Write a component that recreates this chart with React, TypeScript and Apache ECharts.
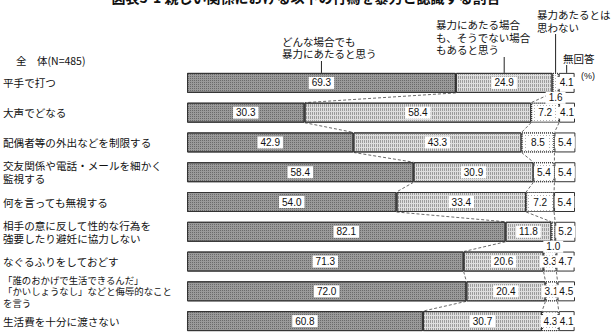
import React, { useEffect, useRef } from "react";
import * as echarts from "echarts";

const categories = [
  "平手で打つ",
  "大声でどなる",
  "配偶者等の外出などを制限する",
  "交友関係や電話・メールを細かく\n監視する",
  "何を言っても無視する",
  "相手の意に反して性的な行為を\n強要したり避妊に協力しない",
  "なぐるふりをしておどす",
  "「誰のおかげで生活できるんだ」\n「かいしょうなし」などと侮辱的なこと\nを言う",
  "生活費を十分に渡さない",
];
const always = [69.3, 30.3, 42.9, 58.4, 54.0, 82.1, 71.3, 72.0, 60.8];
const depends = [24.9, 58.4, 43.3, 30.9, 33.4, 11.8, 20.6, 20.4, 30.7];
const notViolence = [1.6, 7.2, 8.5, 5.4, 7.2, 1.0, 3.3, 3.1, 4.3];
const noAnswer = [4.1, 4.1, 5.4, 5.4, 5.4, 5.2, 4.7, 4.5, 4.1];
const seriesNames = [
  "どんな場合でも\n暴力にあたると思う",
  "暴力にあたる場合\nも、そうでない場合\nもあると思う",
  "暴力あたるとは\n思わない",
  "無回答",
];
const totalLabel = "全　体(N=485)";
const unitLabel = "(%)";
const titleText = "図表3-1 親しい関係における以下の行為を暴力と認識する割合";

const JP = "'Noto Sans CJK JP', 'Noto Sans', sans-serif";
const NUM = "'Liberation Sans', Arial, sans-serif";

export default function App() {
  const ref = useRef<HTMLDivElement>(null);
  useEffect(() => {
    if (!ref.current) return;
    const chart = echarts.init(ref.current, null, { renderer: "svg" });
    const allSeries = [always, depends, notViolence, noAnswer];
    const cum: number[][] = [];
    for (let k = 0; k < 3; k++) {
      cum.push(
        always.map((_, i) => {
          let s = 0;
          for (let j = 0; j <= k; j++) s += allSeries[j][i];
          return s;
        })
      );
    }
    const BAR = 20;
    const styles = [
      {
        color: "#9a9a9a",
        decal: { symbol: "rect", symbolSize: 1, color: "#6a6a6a", dashArrayX: 1, dashArrayY: 1 },
        borderType: "solid",
      },
      {
        color: "#dedede",
        decal: { symbol: "rect", symbolSize: 1, color: "#9c9c9c", dashArrayX: [1, 1], dashArrayY: [3, 1] },
        borderType: "solid",
      },
      {
        color: "#ffffff",
        decal: { symbol: "rect", symbolSize: 1, color: "#b0b0b0", dashArrayX: [1, 2], dashArrayY: [1, 2] },
        borderType: "dotted",
      },
      { color: "#ffffff", decal: undefined, borderType: "solid" },
    ];
    const labelBase = {
      show: true,
      position: "inside",
      backgroundColor: "#ffffff",
      padding: [1, 3],
      fontSize: 10,
      lineHeight: 10,
      fontFamily: NUM,
      color: "#111",
      formatter: (p: any) => Number(p.value).toFixed(1),
    };
    const barSeries = allSeries.map((arr, k) => ({
      type: "bar",
      name: seriesNames[k],
      stack: "total",
      barWidth: BAR,
      z: 3,
      itemStyle: {
        color: styles[k].color,
        decal: styles[k].decal,
        borderColor: "#333",
        borderWidth: 1,
        borderType: styles[k].borderType,
      },
      label: labelBase,
      data: arr.map((v) =>
        v < 2
          ? { value: v, label: { ...labelBase, position: "bottom", distance: -1 } }
          : { value: v }
      ),
    }));

    const connector = {
      type: "custom",
      z: 1,
      silent: true,
      encode: { x: 0, y: 1 },
      data: categories.slice(0, -1).map((_, i) => [0, i]),
      renderItem: (params: any, api: any) => {
        const i = api.value(1);
        const children = cum.map((c) => {
          const a = api.coord([c[i], i]);
          const b = api.coord([c[i + 1], i + 1]);
          return {
            type: "line",
            shape: { x1: a[0], y1: a[1] + BAR / 2, x2: b[0], y2: b[1] - BAR / 2 },
            style: { stroke: "#444", lineWidth: 0.8, lineDash: [3, 2] },
          };
        });
        return { type: "group", children };
      },
    };

    chart.setOption({
      animation: false,
      textStyle: { fontFamily: JP },
      grid: { left: 185, width: 390, top: 68, height: 273.6, containLabel: false },
      xAxis: { type: "value", min: 0, max: 100, show: false },
      yAxis: {
        type: "category",
        data: categories,
        inverse: true,
        axisLine: { show: false },
        axisTick: { show: false },
        splitLine: { show: false },
        axisLabel: {
          align: "left",
          margin: 184,
          fontSize: 10.6,
          lineHeight: 12.5,
          color: "#111",
          fontFamily: JP,
          formatter: (v: string) => (v.split("\n").length > 2 ? "{s|" + v.split("\n").join("}\n{s|") + "}" : v),
          rich: { s: { fontSize: 9.4, lineHeight: 11.5, fontFamily: JP, color: "#111" } },
        },
      },
      series: [...barSeries, connector],
    });

    const annot = [
      { left: 282, top: 35, lineTop: 61 },
      { left: 436, top: 18.5, lineTop: 57 },
      { left: 537, top: 8.5, lineTop: 34 },
      { left: 563, top: 52, lineTop: 65 },
    ];
    const graphics: any[] = [];
    annot.forEach((a, k) => {
      const prev = k === 0 ? 0 : cum[k - 1][0];
      const mid = prev + allSeries[k][0] / 2;
      const p = chart.convertToPixel({ gridIndex: 0 }, [mid, 0]) as number[];
      graphics.push({
        type: "text",
        left: a.left,
        top: a.top,
        style: { text: seriesNames[k], fontSize: 10.5, lineHeight: 12.5, fontFamily: JP, fill: "#111" },
      });
      graphics.push({
        type: "line",
        shape: { x1: p[0], y1: a.lineTop, x2: p[0], y2: p[1] - BAR / 2 },
        style: { stroke: "#222", lineWidth: 1 },
      });
    });
    graphics.push({
      type: "text",
      left: 16,
      top: 54,
      style: { text: totalLabel, fontSize: 10.5, lineHeight: 12, fontFamily: JP, fill: "#111" },
    });
    graphics.push({
      type: "text",
      left: 581,
      top: 70.5,
      style: { text: unitLabel, fontSize: 9, lineHeight: 11, fontFamily: NUM, fill: "#111" },
    });
    graphics.push({
      type: "text",
      x: 306,
      y: 4,
      style: {
        text: titleText,
        fontSize: 14,
        fontWeight: "bold",
        fontFamily: JP,
        fill: "#111",
        align: "center",
        verticalAlign: "bottom",
      },
    });
    chart.setOption({ graphic: graphics });

    return () => chart.dispose();
  }, []);
  return (
    <div
      ref={ref}
      style={{ position: "fixed", left: 0, top: 0, width: 613, height: 336, background: "#fff" }}
    />
  );
}
